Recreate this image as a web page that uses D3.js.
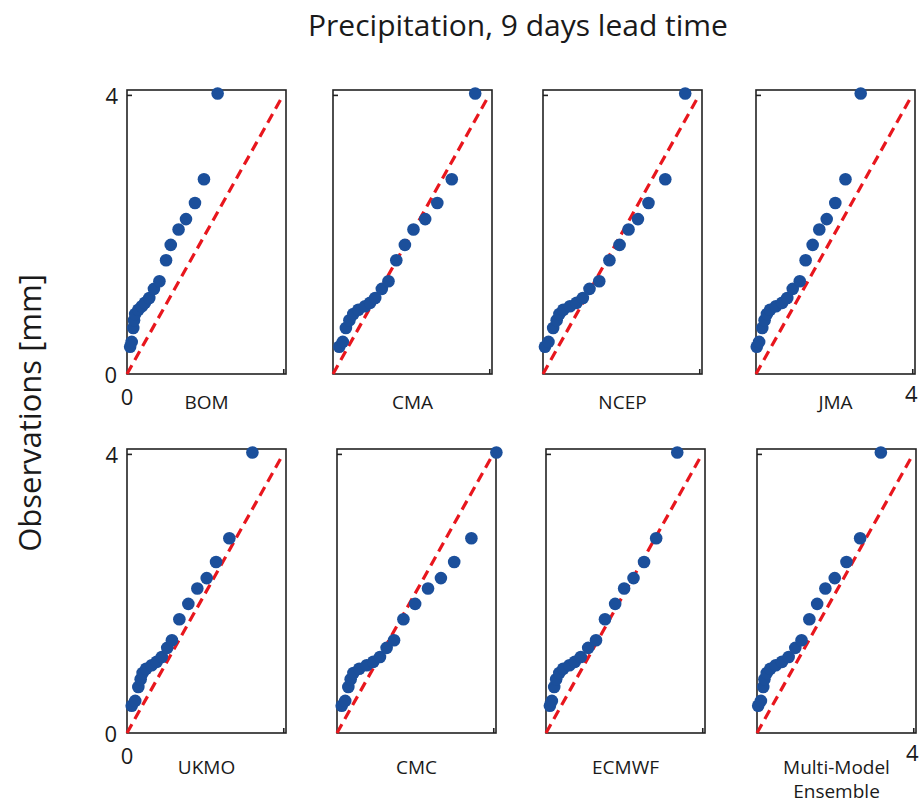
<!DOCTYPE html>
<html>
<head>
<meta charset="utf-8">
<script src="https://cdn.jsdelivr.net/npm/d3@7"></script>
<style>
  body { margin: 0; background: #fff; }
  text { font-family: "Open Sans", "Noto Sans", sans-serif; fill: #1a1a1a; }
</style>
</head>
<body>
<svg id="chart"></svg>
<script>
// Observed precipitation quantiles (same for every panel), mm
var observed = [0.39, 0.46, 0.66, 0.77, 0.86, 0.92, 0.97, 1.02, 1.09, 1.22, 1.33, 1.63, 1.85, 2.07, 2.22, 2.45, 2.79, 4.02];

// Forecast quantiles for each model, mm
var bom   = [0.08, 0.12, 0.16, 0.18, 0.21, 0.29, 0.38, 0.46, 0.57, 0.69, 0.83, 1.00, 1.12, 1.32, 1.51, 1.74, 1.97, 2.32];
var cma   = [0.16, 0.25, 0.33, 0.42, 0.52, 0.65, 0.82, 0.95, 1.08, 1.25, 1.42, 1.62, 1.84, 2.06, 2.36, 2.67, 3.04, 3.64];
var ncep  = [0.05, 0.14, 0.26, 0.35, 0.42, 0.52, 0.69, 0.86, 1.02, 1.19, 1.44, 1.70, 1.96, 2.19, 2.43, 2.70, 3.13, 3.64];
var jma   = [0.02, 0.08, 0.16, 0.22, 0.28, 0.36, 0.51, 0.67, 0.80, 0.94, 1.12, 1.27, 1.45, 1.62, 1.81, 2.03, 2.29, 2.68];
var ukmo  = [0.12, 0.21, 0.29, 0.35, 0.40, 0.49, 0.63, 0.76, 0.89, 1.03, 1.15, 1.34, 1.57, 1.80, 2.04, 2.28, 2.62, 3.21];
var cmc   = [0.12, 0.21, 0.29, 0.35, 0.42, 0.57, 0.76, 0.93, 1.10, 1.27, 1.46, 1.70, 2.00, 2.33, 2.66, 3.00, 3.44, 4.08];
var ecmwf = [0.10, 0.15, 0.21, 0.26, 0.34, 0.44, 0.60, 0.74, 0.89, 1.08, 1.28, 1.51, 1.77, 2.00, 2.24, 2.51, 2.82, 3.36];
var mme   = [0.03, 0.10, 0.16, 0.19, 0.25, 0.34, 0.48, 0.64, 0.81, 0.98, 1.14, 1.34, 1.54, 1.75, 1.99, 2.29, 2.64, 3.17];

var modelNames = ["BOM", "CMA", "NCEP", "JMA", "UKMO", "CMC", "ECMWF", ["Multi-Model", "Ensemble"]];
var forecasts = [bom, cma, ncep, jma, ukmo, cmc, ecmwf, mme];

var titleText = "Precipitation, 9 days lead time";
var yLabelText = "Observations [mm]";
var axisMax = 4;
var domainMax = 4.07;

// Layout of the 2 x 4 grid
var width = 919, height = 807;
var panelW = 159, panelH = 284;
var panelLefts = [[127, 333, 543, 756], [127, 337, 546, 757]];
var panelTops = [90, 449];
var nameOffset = [35, 41];

var svg = d3.select("#chart")
    .attr("width", width)
    .attr("height", height);

svg.append("text")
    .attr("x", 518)
    .attr("y", 36)
    .attr("text-anchor", "middle")
    .style("font-size", "30px")
    .text(titleText);

svg.append("text")
    .attr("transform", "translate(41,413) rotate(-90)")
    .attr("text-anchor", "middle")
    .style("font-size", "31px")
    .text(yLabelText);

forecasts.forEach(function(fc, i) {
    var row = Math.floor(i / 4), col = i % 4;
    var left = panelLefts[row][col], top = panelTops[row];

    var x = d3.scaleLinear().domain([0, domainMax]).range([0, panelW]);
    var y = d3.scaleLinear().domain([0, domainMax]).range([panelH, 0]);

    var g = svg.append("g")
        .attr("transform", "translate(" + left + "," + top + ")");

    // frame
    g.append("rect")
        .attr("width", panelW)
        .attr("height", panelH)
        .attr("fill", "none")
        .attr("stroke", "#222")
        .attr("stroke-width", 1.6);

    // inward ticks at 4 on both axes
    g.append("g")
        .call(d3.axisRight(y).tickValues([axisMax]).tickSize(5).tickFormat(""))
        .call(a => a.select(".domain").remove())
        .selectAll("line").attr("stroke", "#222").attr("stroke-width", 1.6);

    g.append("g")
        .attr("transform", "translate(0," + panelH + ")")
        .call(d3.axisTop(x).tickValues([axisMax]).tickSize(5).tickFormat(""))
        .call(a => a.select(".domain").remove())
        .selectAll("line").attr("stroke", "#222").attr("stroke-width", 1.6);

    // tick labels only on the outer panels
    if (col === 0) {
        g.append("text").attr("x", -9).attr("y", y(axisMax) + 9)
            .attr("text-anchor", "end").style("font-size", "22px").text(axisMax);
        g.append("text").attr("x", -10).attr("y", y(0) + 9)
            .attr("text-anchor", "end").style("font-size", "22px").text(0);
        g.append("text").attr("x", x(0)).attr("y", panelH + 31)
            .attr("text-anchor", "middle").style("font-size", "22px").text(0);
    }
    if (col === 3) {
        g.append("text").attr("x", x(axisMax) - 1).attr("y", panelH + 28)
            .attr("text-anchor", "middle").style("font-size", "22px").text(axisMax);
    }

    // 1:1 reference line
    g.append("path")
        .datum([0, axisMax])
        .attr("fill", "none")
        .attr("stroke", "#e8161d")
        .attr("stroke-width", 3.2)
        .attr("stroke-dasharray", "10,6")
        .attr("d", d3.line().x(d => x(d)).y(d => y(d)));

    // quantile points
    g.selectAll("circle")
        .data(fc.map((v, k) => [v, observed[k]]))
        .join("circle")
        .attr("cx", d => x(d[0]))
        .attr("cy", d => y(d[1]))
        .attr("r", 6.3)
        .attr("fill", "#1b4f9b");

    // model name under the panel
    var name = [].concat(modelNames[i]);
    var label = g.append("text")
        .attr("text-anchor", "middle")
        .attr("x", panelW / 2)
        .attr("y", panelH + nameOffset[row])
        .style("font-size", "19px");
    name.forEach(function(line, k) {
        label.append("tspan")
            .attr("x", panelW / 2)
            .attr("dy", k === 0 ? 0 : 24)
            .text(line);
    });
});
</script>
</body>
</html>
